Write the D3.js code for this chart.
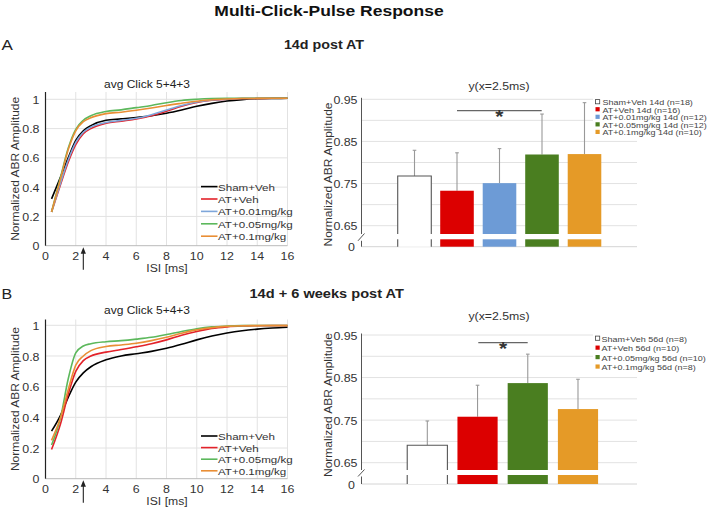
<!DOCTYPE html>
<html>
<head>
<meta charset="utf-8">
<script src="https://cdn.jsdelivr.net/npm/d3@7"></script>
<style>
  body { margin: 0; background: #fff; }
  svg { display: block; font-family: "Liberation Sans", Arial, sans-serif; }
</style>
</head>
<body>
<svg id="fig" width="708" height="507"></svg>
<script>
// ---- data ----
const isi = [0.4, 1, 1.5, 2, 2.5, 3, 4, 5, 6, 7, 8, 9, 10, 11, 12, 13, 14, 15, 16];

// panel A curves (14d post AT)
const shamA  = [0.32, 0.47, 0.60, 0.72, 0.785, 0.82, 0.857, 0.866, 0.876, 0.888, 0.905, 0.927, 0.952, 0.972, 0.988, 0.998, 1.004, 1.006, 1.007];
const vehA   = [0.23, 0.42, 0.57, 0.69, 0.765, 0.80, 0.836, 0.851, 0.866, 0.888, 0.918, 0.952, 0.978, 0.993, 1.0, 1.005, 1.006, 1.007, 1.007];
const d001A  = [0.23, 0.43, 0.585, 0.705, 0.775, 0.81, 0.842, 0.856, 0.87, 0.895, 0.927, 0.958, 0.982, 0.996, 1.002, 1.005, 1.006, 1.007, 1.007];
const d005A  = [0.23, 0.47, 0.665, 0.795, 0.857, 0.888, 0.917, 0.928, 0.943, 0.958, 0.977, 0.992, 1.0, 1.005, 1.007, 1.007, 1.007, 1.007, 1.007];
const d01A   = [0.23, 0.46, 0.655, 0.785, 0.847, 0.874, 0.902, 0.912, 0.925, 0.94, 0.958, 0.973, 0.987, 0.997, 1.002, 1.005, 1.006, 1.007, 1.007];

// panel B curves (14d + 6 weeks post AT)
const shamB  = [0.31, 0.415, 0.53, 0.63, 0.69, 0.73, 0.775, 0.8, 0.815, 0.83, 0.85, 0.876, 0.905, 0.93, 0.95, 0.965, 0.975, 0.982, 0.987];
const vehB   = [0.19, 0.36, 0.55, 0.70, 0.77, 0.80, 0.825, 0.842, 0.86, 0.88, 0.905, 0.935, 0.96, 0.98, 0.99, 0.995, 0.997, 0.998, 0.998];
const d005B  = [0.22, 0.40, 0.65, 0.82, 0.865, 0.88, 0.893, 0.9, 0.91, 0.922, 0.94, 0.96, 0.978, 0.99, 0.995, 0.998, 0.999, 0.999, 0.999];
const d01B   = [0.25, 0.40, 0.58, 0.74, 0.80, 0.835, 0.862, 0.872, 0.883, 0.9, 0.922, 0.948, 0.97, 0.985, 0.993, 0.997, 0.998, 0.999, 0.999];

const lineNamesA = ["Sham+Veh", "AT+Veh", "AT+0.01mg/kg", "AT+0.05mg/kg", "AT+0.1mg/kg"];
const lineNamesB = ["Sham+Veh", "AT+Veh", "AT+0.05mg/kg", "AT+0.1mg/kg"];
const lineColorsA = ["#000000", "#e3222a", "#7ea6da", "#5cb85c", "#e98e35"];
const lineColorsB = ["#000000", "#e3222a", "#5cb85c", "#e98e35"];

// bar panels: value at ISI 2.5 ms, mean and upper error bar
const barNamesA = ["Sham+Veh 14d (n=18)", "AT+Veh 14d (n=16)", "AT+0.01mg/kg 14d (n=12)", "AT+0.05mg/kg 14d (n=12)", "AT+0.1mg/kg 14d (n=10)"];
const barMeanA  = [0.768, 0.733, 0.751, 0.819, 0.820];
const barErrA   = [0.061, 0.090, 0.082, 0.096, 0.122];
const barNamesB = ["Sham+Veh 56d (n=8)", "AT+Veh 56d (n=10)", "AT+0.05mg/kg 56d (n=10)", "AT+0.1mg/kg 56d (n=8)"];
const barMeanB  = [0.691, 0.758, 0.837, 0.776];
const barErrB   = [0.057, 0.074, 0.068, 0.070];
const barColorsA = ["#ffffff", "#dc0000", "#6d9bd6", "#4a7e20", "#e59a27"];
const barColorsB = ["#ffffff", "#dc0000", "#4a7e20", "#e59a27"];

const xTicks = [0, 2, 4, 6, 8, 10, 12, 14, 16];
const yTicksLine = [0, 0.2, 0.4, 0.6, 0.8, 1];
const yTicksBar = [0.65, 0.75, 0.85, 0.95];
const yGridBar = [0.65, 0.7, 0.75, 0.8, 0.85, 0.9, 0.95];

const svg = d3.select("#fig");
svg.append("rect").attr("width", 708).attr("height", 507).attr("fill", "#fff");

// the figure is a bit squashed vertically, so text gets a small y-scale
const SQ = 0.86;
function txt(g, x, y, s, size, opt = {}) {
  const t = g.append("text")
    .attr("transform", `translate(${x},${y})${opt.rot ? " rotate(-90)" : ""} scale(1,${SQ})`)
    .attr("font-size", size)
    .attr("text-anchor", opt.anchor || "start")
    .attr("fill", opt.fill || "#222")
    .text(s);
  if (opt.bold) t.attr("font-weight", "bold");
  return t;
}

// headings
txt(svg, 329, 16, "Multi-Click-Pulse Response", 17.5, { anchor: "middle", bold: true, fill: "#111" });
txt(svg, 1.5, 50, "A", 17, { fill: "#222" });
txt(svg, 1.5, 299, "B", 16, { fill: "#222" });
txt(svg, 324, 49, "14d post AT", 14.3, { anchor: "middle", bold: true });
txt(svg, 326.7, 298, "14d + 6 weeks post AT", 14.6, { anchor: "middle", bold: true });

function linePanel(top, bottom, axisTop, series, names, colors, legY, legStep, legSize) {
  const g = svg.append("g");
  const x = d3.scaleLinear().domain([0, 16]).range([45.5, 287.5]);
  const y = d3.scaleLinear().domain([0, 1]).range([bottom, top]);

  g.selectAll(".vg").data(xTicks.slice(1)).join("line")
    .attr("x1", d => x(d)).attr("x2", d => x(d))
    .attr("y1", axisTop).attr("y2", bottom)
    .attr("stroke", "#e2e2e2").attr("stroke-width", 1);
  g.selectAll(".hg").data(yTicksLine).join("line")
    .attr("x1", x(0)).attr("x2", x(16))
    .attr("y1", d => y(d)).attr("y2", d => y(d))
    .attr("stroke", d => d === 0 ? "#bbb" : "#e2e2e2").attr("stroke-width", 1);
  g.append("line").attr("x1", x(0)).attr("x2", x(0)).attr("y1", axisTop).attr("y2", bottom)
    .attr("stroke", "#222").attr("stroke-width", 1.2);

  yTicksLine.forEach(v => txt(g, 39.5, y(v) + 4.6, d3.format("")(v), 12.4, { anchor: "end", fill: "#333" }));
  xTicks.forEach(v => txt(g, x(v), bottom + 14, v, 12.4, { anchor: "middle", fill: "#333" }));
  txt(g, 167, bottom + 26, "ISI [ms]", 12.2, { anchor: "middle", fill: "#333" });
  txt(g, 147, top - 11, "avg Click 5+4+3", 12, { anchor: "middle", fill: "#222" });
  txt(g, 18.5, (axisTop + bottom) / 2, "Normalized ABR Amplitude", 12, { anchor: "middle", rot: true, fill: "#333" });

  const line = d3.line().x((d, i) => x(isi[i])).y(d => y(d)).curve(d3.curveMonotoneX);
  series.forEach((s, i) => {
    g.append("path").attr("d", line(s)).attr("fill", "none")
      .attr("stroke", colors[i]).attr("stroke-width", 1.6);
  });

  // arrow at 2.5 ms
  const ax = x(2.5);
  g.append("line").attr("x1", ax).attr("x2", ax).attr("y1", bottom + 24).attr("y2", bottom + 4)
    .attr("stroke", "#222").attr("stroke-width", 1.1);
  g.append("path").attr("d", `M${ax - 2.6},${bottom + 8} L${ax},${bottom + 1.5} L${ax + 2.6},${bottom + 8} Z`)
    .attr("fill", "#222");

  names.forEach((n, i) => {
    const ly = legY + i * legStep;
    g.append("line").attr("x1", 201).attr("x2", 217.5).attr("y1", ly).attr("y2", ly)
      .attr("stroke", colors[i]).attr("stroke-width", 1.6);
    txt(g, 218, ly + 4, n, legSize, { fill: "#333" });
  });
}

linePanel(99.3, 245.7, 92, [shamA, vehA, d001A, d005A, d01A], lineNamesA, lineColorsA, 186.6, 12.4, 11.6);
linePanel(325.3, 478.7, 319.5, [shamB, vehB, d005B, d01B], lineNamesB, lineColorsB, 436, 11.6, 11.6);

function barPanel(cfg) {
  const g = svg.append("g");
  const y = d3.scaleLinear().domain([0.65, 0.95]).range([cfg.y065, cfg.y095]);
  const x = d3.scaleBand().domain(cfg.names).range(cfg.xr).paddingInner(cfg.pad).paddingOuter(cfg.pad / 2);
  const axX = 361.5, gridEnd = 637;
  const bw = x.bandwidth();

  g.selectAll(".hg").data(yGridBar).join("line")
    .attr("x1", axX).attr("x2", gridEnd)
    .attr("y1", d => y(d)).attr("y2", d => y(d))
    .attr("stroke", "#e2e2e2");
  g.append("line").attr("x1", axX).attr("x2", gridEnd).attr("y1", cfg.zero).attr("y2", cfg.zero)
    .attr("stroke", "#d4d4d4");

  const data = cfg.names.map((n, i) => ({ n, m: cfg.mean[i], e: cfg.err[i], c: cfg.colors[i] }));
  const hollow = d => d.c === "#ffffff";

  // error bars (behind bars)
  g.selectAll(".err").data(data).join("line")
    .attr("x1", d => x(d.n) + bw / 2).attr("x2", d => x(d.n) + bw / 2)
    .attr("y1", d => y(d.m)).attr("y2", d => y(d.m + d.e))
    .attr("stroke", "#999").attr("stroke-width", 1.1);
  g.selectAll(".cap").data(data).join("line")
    .attr("x1", d => x(d.n) + bw / 2 - 1.8).attr("x2", d => x(d.n) + bw / 2 + 1.8)
    .attr("y1", d => y(d.m + d.e)).attr("y2", d => y(d.m + d.e))
    .attr("stroke", "#999").attr("stroke-width", 1.1);

  // upper bar segment (above the axis break) and stub below the break
  g.selectAll(".bu").data(data).join("rect")
    .attr("x", d => x(d.n)).attr("width", bw)
    .attr("y", d => y(d.m)).attr("height", d => cfg.brkTop - y(d.m))
    .attr("fill", d => d.c);
  g.selectAll(".bl").data(data).join("rect")
    .attr("x", d => x(d.n)).attr("width", bw)
    .attr("y", cfg.brkBot).attr("height", cfg.zero - cfg.brkBot)
    .attr("fill", d => d.c);
  // open outline for the hollow (sham) bar
  g.selectAll(".ou").data(data.filter(hollow)).join("path")
    .attr("d", d => `M${x(d.n)},${cfg.brkTop} V${y(d.m)} H${x(d.n) + bw} V${cfg.brkTop}` +
                    ` M${x(d.n)},${cfg.brkBot} V${cfg.zero} M${x(d.n) + bw},${cfg.brkBot} V${cfg.zero}`)
    .attr("fill", "none").attr("stroke", "#555").attr("stroke-width", 1.1);

  // axis with break mark
  g.append("line").attr("x1", axX).attr("x2", axX).attr("y1", cfg.y095 - 1.5).attr("y2", cfg.brkTop)
    .attr("stroke", "#555").attr("stroke-width", 1);
  g.append("line").attr("x1", axX).attr("x2", axX).attr("y1", cfg.brkBot + 1.5).attr("y2", cfg.zero)
    .attr("stroke", "#555").attr("stroke-width", 1);
  g.append("line").attr("x1", axX - 3.5).attr("x2", axX + 3).attr("y1", cfg.brkBot + 1.5).attr("y2", cfg.brkTop - 0.5)
    .attr("stroke", "#555").attr("stroke-width", 1);

  yTicksBar.forEach(v => txt(g, 357.5, y(v) + 4.6, d3.format(".2f")(v), 12.4, { anchor: "end", fill: "#333" }));
  txt(g, 355, cfg.zero + 4.6, "0", 12.4, { anchor: "end", fill: "#333" });
  txt(g, 499, cfg.titleY, "y(x=2.5ms)", 12.3, { anchor: "middle", fill: "#333" });
  txt(g, 332, cfg.labelY, "Normalized ABR Amplitude", 12, { anchor: "middle", rot: true, fill: "#333" });

  // significance
  g.append("line").attr("x1", cfg.sig[0]).attr("x2", cfg.sig[1]).attr("y1", cfg.sig[2]).attr("y2", cfg.sig[2])
    .attr("stroke", "#666").attr("stroke-width", 1.2);
  txt(g, (cfg.sig[0] + cfg.sig[1]) / 2, cfg.sig[2] + 12, "*", 21, { anchor: "middle", bold: true, fill: "#333" });

  // legend
  g.append("rect").attr("x", 593).attr("y", cfg.legY - 6).attr("width", 115)
    .attr("height", cfg.legStep * (data.length - 1) + 11).attr("fill", "#fff");
  data.forEach((d, i) => {
    const ly = cfg.legY + i * cfg.legStep;
    g.append("rect").attr("x", 595.5).attr("y", ly - 2.2).attr("width", 4.2).attr("height", 4.2)
      .attr("fill", d.c).attr("stroke", hollow(d) ? "#444" : "none").attr("stroke-width", 0.8);
    txt(g, cfg.legX, ly + 3.3, d.n, cfg.legSize, { fill: "#444" });
  });
}

barPanel({
  names: barNamesA, mean: barMeanA, err: barErrA, colors: barColorsA,
  y065: 225.7, y095: 99.3, brkTop: 234, brkBot: 239.3, zero: 246.7,
  xr: [393.25, 605.75], pad: 0.21,
  titleY: 89.5, labelY: 174.5, sig: [457, 541.7, 110.7],
  legY: 101.8, legStep: 7.55, legSize: 9, legX: 602.5
});
barPanel({
  names: barNamesB, mean: barMeanB, err: barErrB, colors: barColorsB,
  y065: 462.7, y095: 335, brkTop: 470, brkBot: 475, zero: 484,
  xr: [402.2, 603.1], pad: 0.2,
  titleY: 320, labelY: 405, sig: [478.3, 527.7, 342.7],
  legY: 338.3, legStep: 9.45, legSize: 9, legX: 601.5
});
</script>
</body>
</html>
